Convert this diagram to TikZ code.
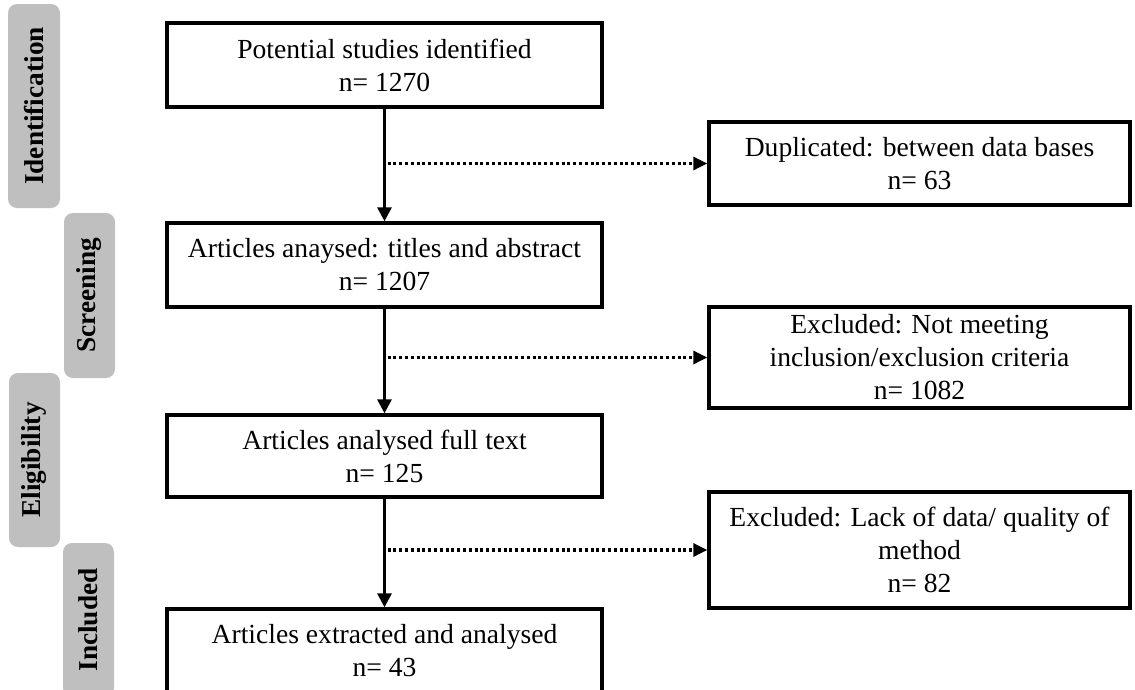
\documentclass[tikz,border=0pt]{standalone}
\usepackage{fontspec}
\setmainfont{Liberation Serif}
\usetikzlibrary{arrows.meta}
\tikzset{
  flowbox/.style={draw=black, line width=3.4pt, fill=white, align=center, inner sep=0pt,
    font=\fontsize{27.6}{33}\selectfont},
  leftbox/.style={flowbox, minimum width=435pt},
  rightbox/.style={flowbox, minimum width=421pt},
  phase/.style={fill=black!25, rounded corners=9pt, rotate=90, inner sep=0pt,
    font=\fontsize{27.3}{33}\selectfont\bfseries},
  arr/.style={line width=3pt, -{Triangle[length=14pt,width=14pt]}},
  dotarr/.style={line width=3.2pt, dash pattern=on 3pt off 2.8pt, -{Triangle[length=14pt,width=13pt]}}
}
\begin{document}
\begin{tikzpicture}[x=1pt,y=-1pt]
\clip (0,0) rectangle (1135,689);
\fill[white] (0,0) rectangle (1135,689);
% phase labels
\node[phase, minimum width=204pt, minimum height=52pt] (pid) at (34,106) {Identification};
\node[phase, minimum width=165pt, minimum height=51pt] (psc) at (89.5,295.5) {Screening};
\node[phase, minimum width=174pt, minimum height=51pt] (pel) at (34.5,460) {Eligibility};
\node[phase, minimum width=154pt, minimum height=51pt] (pin) at (88.5,620) {Included};
% main boxes
\node[leftbox, minimum height=84pt] (b1) at (384.5,65) {Potential studies identified\\n= 1270};
\node[leftbox, minimum height=84pt] (b2) at (384.5,265) {Articles anaysed: titles and abstract\\n= 1207};
\node[leftbox, minimum height=82pt] (b3) at (384.5,456) {Articles analysed full text\\n= 125};
\node[leftbox, minimum height=84pt] (b4) at (384.5,651) {Articles extracted and analysed\\n= 43};
% exclusion boxes
\node[rightbox, minimum height=83pt] (r1) at (919.5,163.5) {Duplicated: between data bases\\n= 63};
\node[rightbox, minimum height=101pt] (r2) at (919.5,357.5) {Excluded: Not meeting\\inclusion/exclusion criteria\\n= 1082};
\node[rightbox, minimum height=116pt] (r3) at (919.5,550) {Excluded: Lack of data/ quality of\\method\\n= 82};
% arrows
\draw[arr] (b1) -- (b2);
\draw[arr] (b2) -- (b3);
\draw[arr] (b3) -- (b4);
\draw[dotarr] ([xshift=3pt]b1.south |- r1.west) -- (r1.west);
\draw[dotarr] ([xshift=3pt]b2.south |- r2.west) -- (r2.west);
\draw[dotarr] ([xshift=3pt]b3.south |- r3.west) -- (r3.west);
\end{tikzpicture}
\end{document}
